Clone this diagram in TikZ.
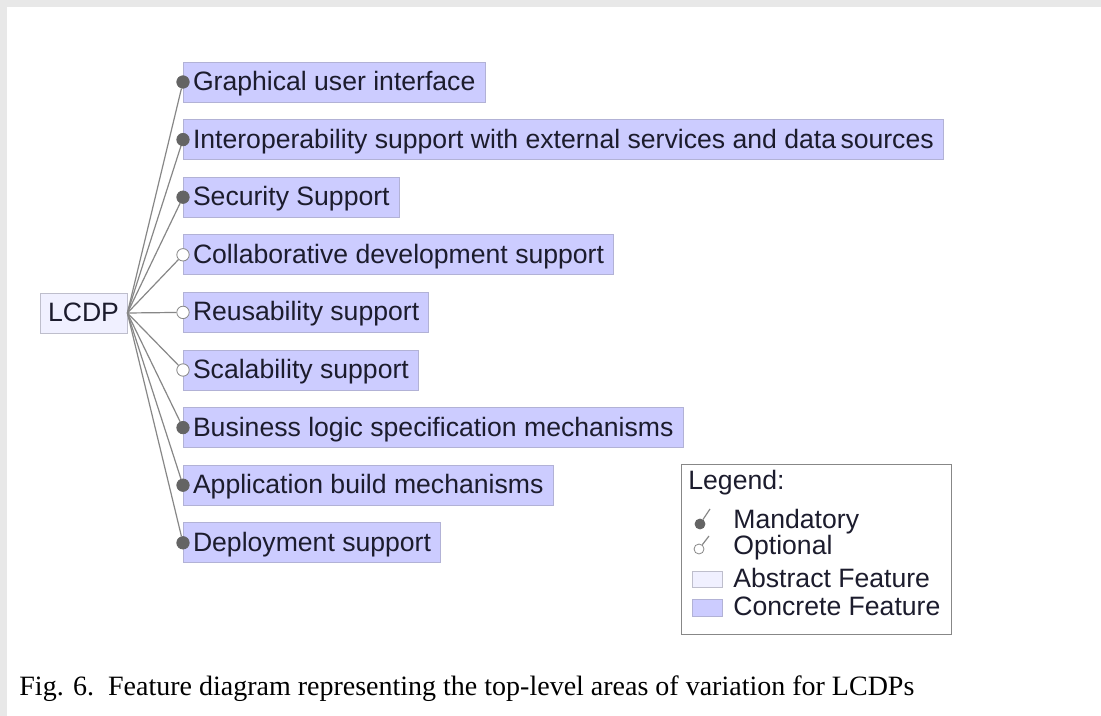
\documentclass[tikz,border=0pt]{standalone}
\usepackage{fontspec}
\setmainfont{Liberation Sans}
\newfontfamily\capfont{Liberation Serif}
\definecolor{concrete}{RGB}{204,204,255}
\definecolor{abstract}{RGB}{240,240,255}
\definecolor{featline}{RGB}{178,178,214}
\definecolor{absline}{RGB}{190,190,204}
\definecolor{linegray}{RGB}{135,135,135}
\definecolor{dotgray}{RGB}{100,100,100}
\definecolor{txt}{RGB}{28,28,45}
\definecolor{bggray}{RGB}{232,232,232}
\begin{document}
\begin{tikzpicture}[x=0.5pt,y=-0.5pt,
    lbl/.style={font=\fontsize{13.3}{15}\selectfont, text=txt, inner sep=0pt},
    feature/.style={lbl, draw=featline, fill=concrete, anchor=west, minimum height=20pt,
      inner xsep=4.8pt, text height=10.5pt, text depth=1.9pt},
    rootfeat/.style={feature, draw=absline, fill=abstract, anchor=center, minimum width=43.5pt,
      inner xsep=0pt},
    mandatory/.style={circle, draw=dotgray, fill=dotgray, inner sep=0pt, minimum size=6.2pt},
    optional/.style={circle, draw=linegray, fill=white, inner sep=0pt, minimum size=6.2pt},
    edge/.style={draw=linegray, line width=0.6pt}]
  % background
  \fill[bggray] (0,0) rectangle (1101,716);
  \fill[white] (7,7) rectangle (1101,716);

  % features
  \node[rootfeat] (lcdp) at (83.5,313) {LCDP};
  \node[feature] (gui) at (183,82) {Graphical user interface};
  \node[feature] (interop) at (183,139.6) {Interoperability support with external services and data\,sources};
  \node[feature] (security) at (183,197.2) {Security Support};
  \node[feature] (collab) at (183,254.8) {Collaborative development support};
  \node[feature] (reuse) at (183,312.4) {Reusability support};
  \node[feature] (scale) at (183,370) {Scalability support};
  \node[feature] (logic) at (183,427.6) {Business logic specification mechanisms};
  \node[feature] (build) at (183,485.2) {Application build mechanisms};
  \node[feature] (deploy) at (183,542.8) {Deployment support};

  % edges
  \foreach \f/\kind in {gui/mandatory,interop/mandatory,security/mandatory,collab/optional,
      reuse/optional,scale/optional,logic/mandatory,build/mandatory,deploy/mandatory}{
    \node[\kind] (\f-c) at (\f.west) {};
    \draw[edge] (lcdp.east) -- (\f-c);
  }

  % legend
  \node[draw=linegray, line width=0.6pt, anchor=north west, minimum width=135pt,
    minimum height=85pt, inner sep=0pt] (legend) at (681,464) {};
  \node[lbl, anchor=west] (legtitle) at (688,483) {Legend:};
  \node[mandatory, minimum size=5pt] (legmand) at (700,524) {};
  \coordinate (legmand-e) at (710,509);
  \draw[edge] (legmand) -- (legmand-e);
  \node[lbl, anchor=west] (legmandtxt) at (733,522) {Mandatory};
  \node[optional, minimum size=5pt] (legopt) at (699,549) {};
  \coordinate (legopt-e) at (709,536);
  \draw[edge] (legopt) -- (legopt-e);
  \node[lbl, anchor=west] (legopttxt) at (733,548) {Optional};
  \node[draw=absline, fill=abstract, line width=0.3pt, minimum width=15pt, minimum height=8pt,
    inner sep=0pt] (legabs) at (707,579.5) {};
  \node[lbl, anchor=west] (legabstxt) at (733,578) {Abstract Feature};
  \node[draw=featline, fill=concrete, line width=0.3pt, minimum width=15pt, minimum height=8.5pt,
    inner sep=0pt] (legcon) at (707,607.5) {};
  \node[lbl, anchor=west] (legcontxt) at (733,606) {Concrete Feature};

  % caption
  \node[anchor=west, inner sep=0pt, font=\capfont\fontsize{14}{16}\selectfont, text=black]
    (caption) at (19,689) {Fig. 6.\ \ Feature diagram representing the top-level areas of variation for LCDPs};
\end{tikzpicture}
\end{document}
